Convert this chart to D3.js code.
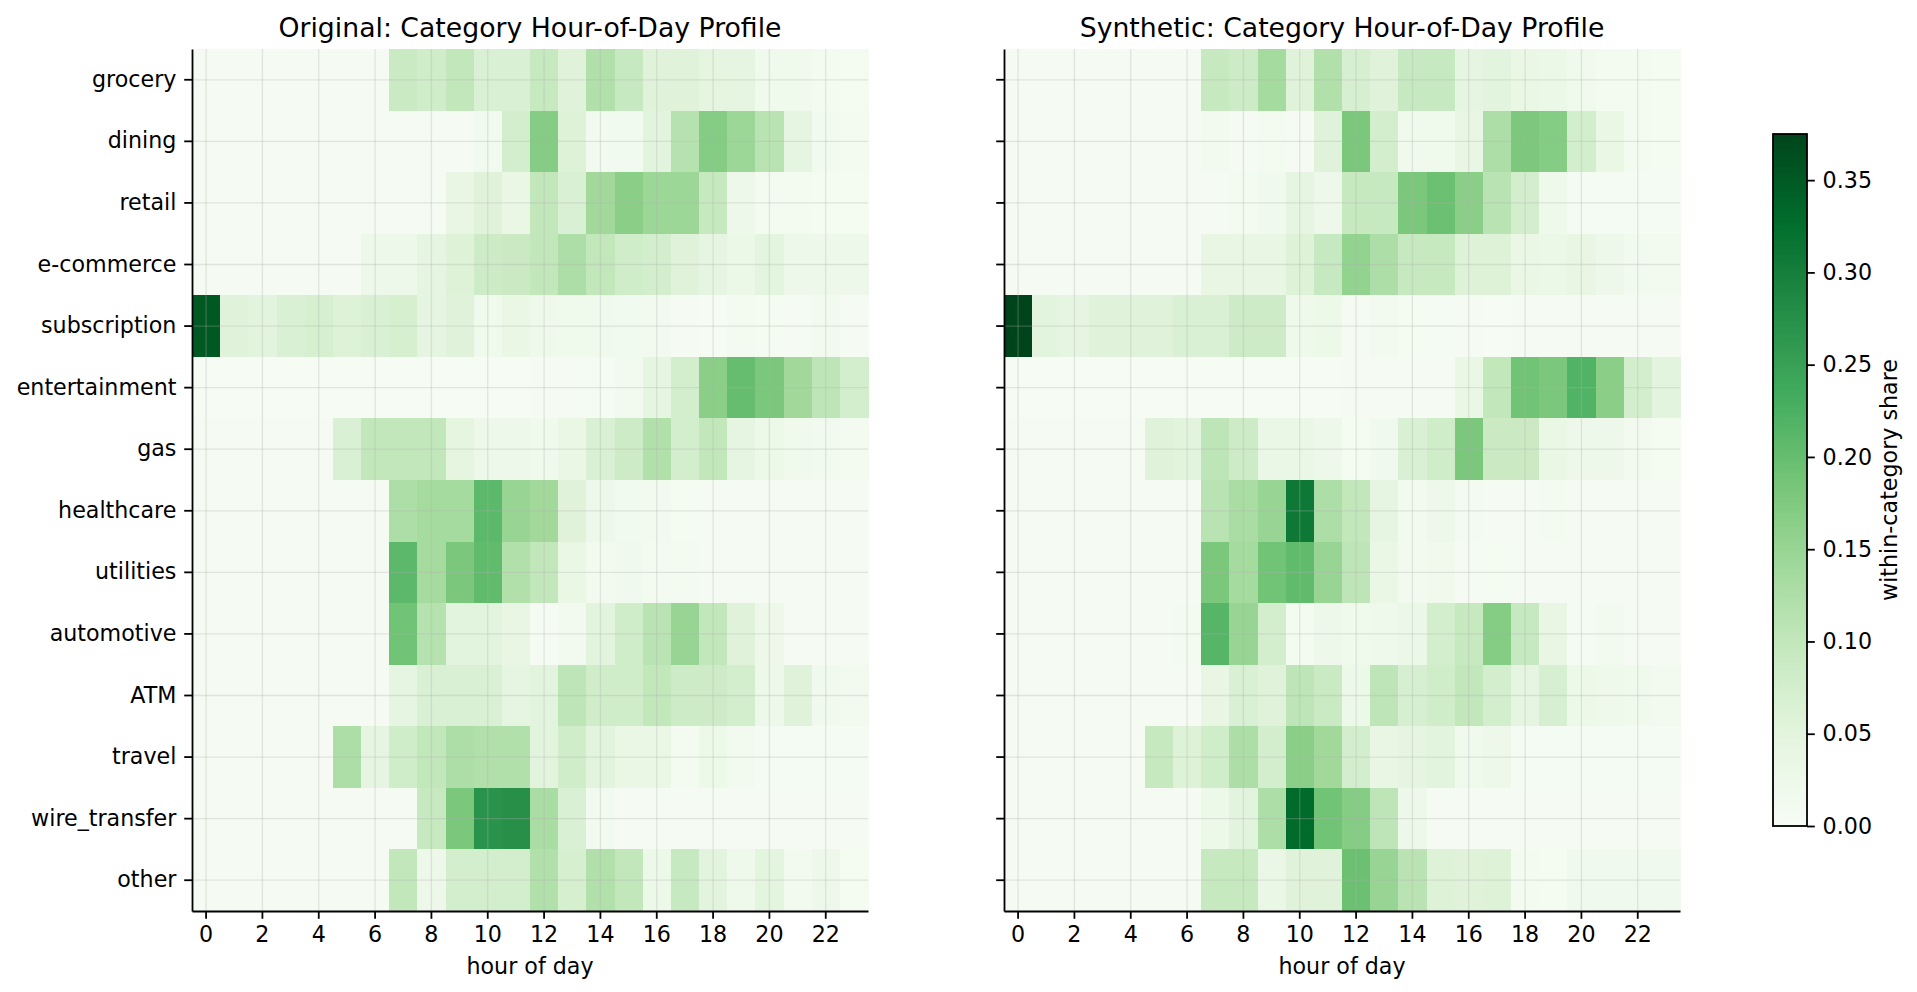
<!DOCTYPE html>
<html>
<head>
<meta charset="utf-8">
<script src="https://cdn.jsdelivr.net/npm/d3@7"></script>
<style>
  body { margin: 0; background: #fff; }
  text { font-family: "DejaVu Sans", sans-serif; fill: #000; }
</style>
</head>
<body>
<div id="chart"></div>
<script>
//////////////////////////////////////////////////////////// Data ////////////////////////////////////////////////////////////
const categories = ["grocery", "dining", "retail", "e-commerce", "subscription", "entertainment", "gas",
  "healthcare", "utilities", "automotive", "ATM", "travel", "wire_transfer", "other"];

const hours = d3.range(24);
const hourTicks = [0, 2, 4, 6, 8, 10, 12, 14, 16, 18, 20, 22];
const colorbarTicks = [0, 0.05, 0.10, 0.15, 0.20, 0.25, 0.30, 0.35];

// within-category share per hour (rows follow categories)
const originalShare = [
  [0.004,0.004,0.004,0.004,0.004,0.004,0.005,0.090,0.080,0.100,0.065,0.065,0.095,0.055,0.120,0.093,0.055,0.055,0.047,0.045,0.020,0.020,0.010,0.008],
  [0.004,0.004,0.004,0.004,0.004,0.004,0.004,0.004,0.004,0.005,0.015,0.075,0.170,0.060,0.015,0.015,0.050,0.115,0.170,0.145,0.110,0.045,0.015,0.010],
  [0.004,0.004,0.004,0.004,0.004,0.004,0.004,0.004,0.004,0.040,0.055,0.035,0.100,0.065,0.140,0.165,0.145,0.145,0.095,0.025,0.010,0.010,0.008,0.008],
  [0.004,0.004,0.004,0.004,0.004,0.004,0.025,0.025,0.045,0.060,0.085,0.088,0.100,0.125,0.100,0.080,0.075,0.055,0.045,0.030,0.048,0.025,0.025,0.025],
  [0.352,0.055,0.050,0.065,0.072,0.060,0.065,0.072,0.045,0.055,0.020,0.035,0.022,0.020,0.020,0.015,0.012,0.005,0.003,0.010,0.008,0.006,0.012,0.006],
  [0.003,0.003,0.003,0.003,0.003,0.003,0.003,0.003,0.003,0.003,0.003,0.003,0.005,0.005,0.007,0.012,0.045,0.075,0.165,0.200,0.180,0.140,0.105,0.075],
  [0.004,0.004,0.004,0.004,0.004,0.065,0.100,0.100,0.100,0.047,0.025,0.025,0.020,0.035,0.065,0.085,0.120,0.075,0.100,0.045,0.028,0.020,0.015,0.010],
  [0.004,0.004,0.004,0.004,0.004,0.004,0.004,0.125,0.135,0.135,0.210,0.150,0.140,0.055,0.025,0.015,0.012,0.008,0.005,0.005,0.005,0.005,0.005,0.005],
  [0.004,0.004,0.004,0.004,0.004,0.004,0.004,0.210,0.135,0.180,0.205,0.120,0.100,0.035,0.012,0.018,0.010,0.010,0.005,0.005,0.005,0.005,0.005,0.005],
  [0.004,0.004,0.004,0.004,0.004,0.004,0.004,0.190,0.115,0.050,0.050,0.040,0.005,0.012,0.050,0.080,0.110,0.150,0.100,0.055,0.025,0.004,0.004,0.004],
  [0.004,0.004,0.004,0.004,0.004,0.004,0.004,0.045,0.065,0.065,0.065,0.045,0.050,0.105,0.080,0.080,0.100,0.085,0.085,0.075,0.025,0.055,0.018,0.012],
  [0.004,0.004,0.004,0.004,0.004,0.125,0.045,0.080,0.100,0.125,0.120,0.120,0.052,0.080,0.052,0.035,0.035,0.010,0.028,0.012,0.007,0.007,0.007,0.007],
  [0.004,0.004,0.004,0.004,0.004,0.004,0.004,0.004,0.095,0.180,0.270,0.275,0.130,0.065,0.015,0.005,0.005,0.005,0.005,0.005,0.005,0.005,0.005,0.005],
  [0.004,0.004,0.004,0.004,0.004,0.004,0.004,0.100,0.025,0.075,0.075,0.075,0.120,0.072,0.120,0.100,0.028,0.093,0.050,0.022,0.048,0.012,0.025,0.008]
];

const syntheticShare = [
  [0.004,0.004,0.004,0.004,0.004,0.004,0.004,0.095,0.085,0.135,0.055,0.120,0.070,0.055,0.093,0.093,0.045,0.050,0.035,0.030,0.020,0.010,0.010,0.008],
  [0.004,0.004,0.004,0.004,0.004,0.004,0.004,0.012,0.006,0.010,0.006,0.055,0.180,0.075,0.020,0.020,0.040,0.125,0.178,0.170,0.075,0.035,0.010,0.008],
  [0.004,0.004,0.004,0.004,0.004,0.004,0.004,0.004,0.010,0.018,0.045,0.025,0.095,0.093,0.180,0.195,0.165,0.110,0.075,0.022,0.007,0.007,0.007,0.007],
  [0.004,0.004,0.004,0.004,0.004,0.004,0.004,0.040,0.040,0.040,0.060,0.093,0.155,0.125,0.095,0.095,0.060,0.060,0.035,0.030,0.040,0.025,0.015,0.013],
  [0.375,0.050,0.045,0.055,0.055,0.055,0.065,0.065,0.085,0.085,0.022,0.028,0.005,0.012,0.008,0.007,0.005,0.003,0.004,0.004,0.005,0.004,0.004,0.004],
  [0.003,0.003,0.003,0.003,0.003,0.003,0.003,0.003,0.003,0.003,0.003,0.003,0.004,0.006,0.004,0.004,0.035,0.100,0.190,0.180,0.220,0.165,0.075,0.050],
  [0.004,0.004,0.004,0.004,0.004,0.055,0.050,0.105,0.085,0.033,0.033,0.025,0.008,0.018,0.065,0.080,0.180,0.088,0.088,0.035,0.025,0.025,0.012,0.008],
  [0.004,0.004,0.004,0.004,0.004,0.004,0.004,0.110,0.130,0.150,0.310,0.125,0.100,0.045,0.012,0.025,0.010,0.005,0.005,0.010,0.005,0.005,0.005,0.005],
  [0.004,0.004,0.004,0.004,0.004,0.004,0.004,0.180,0.135,0.190,0.205,0.150,0.105,0.035,0.012,0.020,0.006,0.008,0.005,0.005,0.005,0.005,0.005,0.005],
  [0.004,0.004,0.004,0.004,0.004,0.004,0.010,0.215,0.150,0.075,0.010,0.025,0.020,0.022,0.030,0.075,0.095,0.170,0.093,0.040,0.007,0.012,0.005,0.005],
  [0.004,0.004,0.004,0.004,0.004,0.004,0.004,0.040,0.065,0.055,0.105,0.090,0.028,0.105,0.070,0.080,0.100,0.075,0.045,0.070,0.028,0.022,0.020,0.013],
  [0.004,0.004,0.004,0.004,0.004,0.095,0.060,0.080,0.125,0.075,0.165,0.140,0.075,0.040,0.045,0.050,0.020,0.025,0.007,0.007,0.007,0.007,0.007,0.007],
  [0.004,0.004,0.004,0.004,0.004,0.004,0.004,0.028,0.052,0.125,0.330,0.190,0.170,0.105,0.025,0.004,0.004,0.004,0.004,0.004,0.004,0.004,0.004,0.004],
  [0.004,0.004,0.004,0.004,0.004,0.004,0.004,0.095,0.095,0.033,0.055,0.055,0.195,0.150,0.110,0.060,0.055,0.060,0.010,0.008,0.018,0.018,0.018,0.018]
];

//////////////////////////////////////////////////////////// Set-Up ////////////////////////////////////////////////////////////
const width = 1917, height = 992;
const panelTop = 49, panelW = 676, panelH = 862;
const panelLefts = [192, 1004];
const fontSize = 22.2, titleSize = 26.7;
const tickLen = 7.8, lineW = 1.8;

// matplotlib "Greens" stops, spread linearly over 0 .. vmax
const greens = ["#f7fcf5","#e5f5e0","#c7e9c0","#a1d99b","#74c476","#41ab5d","#238b45","#006d2c","#00441b"];
const vmax = 0.375;
const color = d3.scaleLinear()
  .domain(greens.map((c, i) => i * vmax / (greens.length - 1)))
  .range(greens)
  .interpolate(d3.interpolateRgb)
  .clamp(true);

const x = d3.scaleBand().domain(hours).range([0, panelW]);
const y = d3.scaleBand().domain(categories).range([0, panelH]);

const svg = d3.select("#chart")
  .append("svg")
    .attr("width", width)
    .attr("height", height)
    .style("display", "block");

function styleAxis(g) {
  g.select(".domain").attr("stroke", "#000").attr("stroke-width", lineW);
  g.selectAll(".tick line").attr("stroke", "#000").attr("stroke-width", lineW);
  g.selectAll(".tick text").style("font-size", fontSize + "px").attr("fill", "#000");
}

//////////////////////////////////////////////////////////// Panels ////////////////////////////////////////////////////////////
function drawPanel(left, title, shares, showLabels) {
  const g = svg.append("g").attr("transform", "translate(" + left + "," + panelTop + ")");

  const cells = [];
  shares.forEach((row, r) => row.forEach((v, h) => cells.push({cat: categories[r], hour: h, value: v})));

  g.append("g")
    .selectAll("rect")
    .data(cells)
    .enter().append("rect")
      .attr("x", d => x(d.hour))
      .attr("y", d => y(d.cat))
      .attr("width", x.bandwidth() + 0.5)
      .attr("height", y.bandwidth() + 0.5)
      .attr("fill", d => color(d.value))
      .attr("shape-rendering", "crispEdges");

  // light grid on top of the cells
  const grid = g.append("g").attr("stroke", "#b0b0b0").attr("stroke-opacity", 0.3).attr("stroke-width", 1.3);
  grid.selectAll("line.v")
    .data(hourTicks)
    .enter().append("line")
      .attr("class", "v")
      .attr("x1", d => x(d) + x.bandwidth() / 2)
      .attr("x2", d => x(d) + x.bandwidth() / 2)
      .attr("y1", 0).attr("y2", panelH);
  grid.selectAll("line.h")
    .data(categories)
    .enter().append("line")
      .attr("class", "h")
      .attr("y1", d => y(d) + y.bandwidth() / 2)
      .attr("y2", d => y(d) + y.bandwidth() / 2)
      .attr("x1", 0).attr("x2", panelW);

  g.append("g")
    .attr("transform", "translate(0," + panelH + ")")
    .call(d3.axisBottom(x).tickValues(hourTicks).tickSize(tickLen).tickPadding(tickLen).tickSizeOuter(0))
    .call(styleAxis);

  const yAxis = d3.axisLeft(y).tickSize(tickLen).tickPadding(tickLen).tickSizeOuter(0);
  if (!showLabels) yAxis.tickFormat("");
  g.append("g").call(yAxis).call(styleAxis);

  g.append("text")
    .attr("x", panelW / 2)
    .attr("y", 37 - panelTop)
    .attr("text-anchor", "middle")
    .style("font-size", titleSize + "px")
    .text(title);

  g.append("text")
    .attr("x", panelW / 2)
    .attr("y", 974 - panelTop)
    .attr("text-anchor", "middle")
    .style("font-size", fontSize + "px")
    .text("hour of day");
}

drawPanel(panelLefts[0], "Original: Category Hour-of-Day Profile", originalShare, true);
drawPanel(panelLefts[1], "Synthetic: Category Hour-of-Day Profile", syntheticShare, false);

//////////////////////////////////////////////////////////// Colorbar ////////////////////////////////////////////////////////////
const cb = {left: 1773, top: 134, w: 34, h: 692};
const cbScale = d3.scaleLinear().domain([0, vmax]).range([cb.top + cb.h, cb.top]);

const grad = svg.append("defs").append("linearGradient")
  .attr("id", "cbGrad")
  .attr("x1", 0).attr("y1", 1).attr("x2", 0).attr("y2", 0);
grad.selectAll("stop")
  .data(d3.range(0, 1.0001, 0.02))
  .enter().append("stop")
    .attr("offset", d => d)
    .attr("stop-color", d => color(d * vmax));

svg.append("rect")
  .attr("x", cb.left).attr("y", cb.top)
  .attr("width", cb.w).attr("height", cb.h)
  .attr("fill", "url(#cbGrad)")
  .attr("stroke", "#000")
  .attr("stroke-width", lineW);

svg.append("g")
  .attr("transform", "translate(" + (cb.left + cb.w) + ",0)")
  .call(d3.axisRight(cbScale).tickValues(colorbarTicks).tickFormat(d3.format(".2f")).tickSize(tickLen).tickPadding(tickLen).tickSizeOuter(0))
  .call(styleAxis)
  .call(g => g.select(".domain").remove());

svg.append("text")
  .attr("transform", "translate(1889," + (cb.top + cb.h / 2) + ") rotate(-90)")
  .attr("text-anchor", "middle")
  .attr("dy", "0.35em")
  .style("font-size", fontSize + "px")
  .text("within-category share");
</script>
</body>
</html>
